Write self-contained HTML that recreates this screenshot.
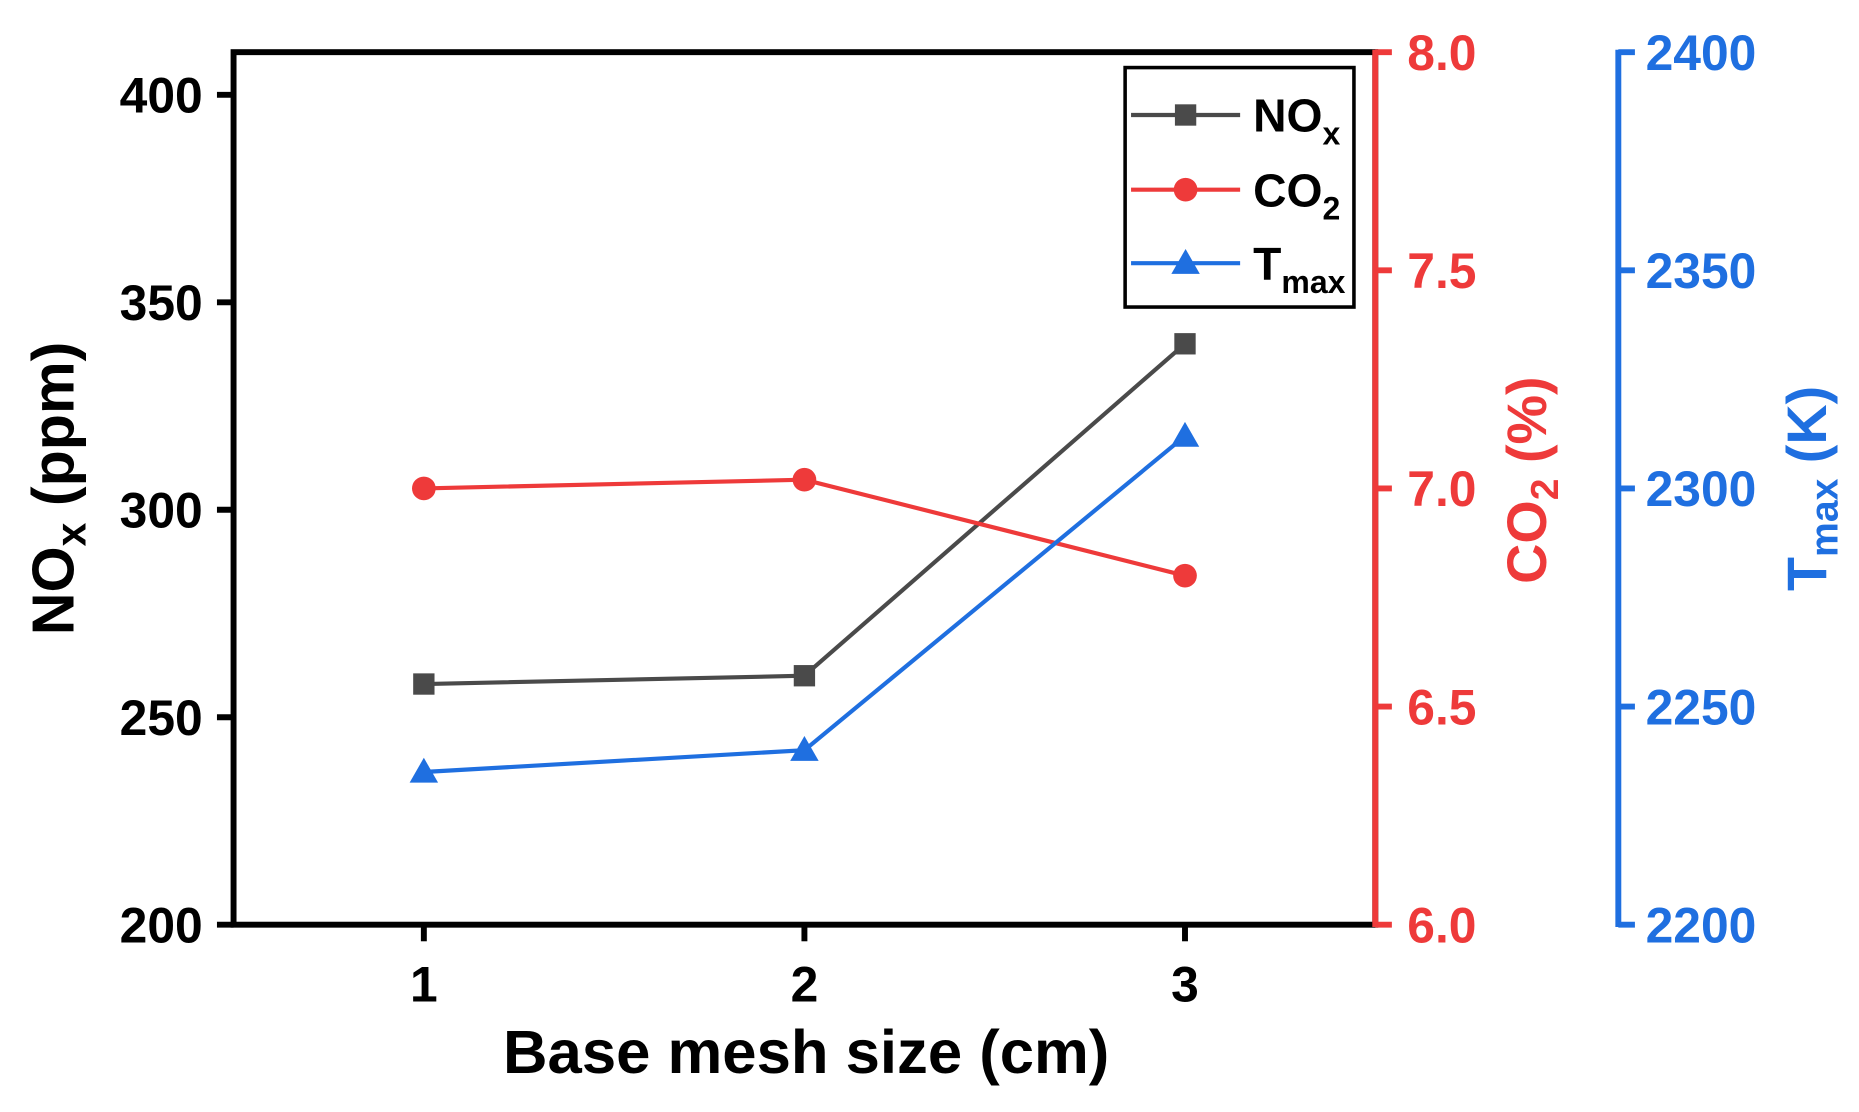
<!DOCTYPE html>
<html><head><meta charset="utf-8"><style>
html,body{margin:0;padding:0;background:#fff;}
svg{display:block;font-family:"Liberation Sans",Arial,sans-serif;font-weight:bold;}
</style></head><body>
<svg id="chart" width="1859" height="1112" viewBox="0 0 1568 938" preserveAspectRatio="none" xmlns="http://www.w3.org/2000/svg">
<g id="g"></g>
</svg>
<script>
const categories=[1,2,3];
const noxValues=[258,260,340];
const co2Values=[7.0,7.02,6.8];
const tmaxValues=[2235,2240,2312];
const leftTicks=[200,250,300,350,400];
const redTicks=["6.0","6.5","7.0","7.5","8.0"];
const blueTicks=[2200,2250,2300,2350,2400];

const L=197,R=1160,T=44,B=780;
const xS=v=>L+(v-0.5)/3*(R-L);
const yN=v=>B-(v-200)*3.5;
const yC=v=>B-(v-6)*368;
const yT=v=>B-(v-2200)*3.68;
const NS="http://www.w3.org/2000/svg";
const g=document.getElementById('g');
function mk(tag,attrs,parent){const e=document.createElementNS(NS,tag);for(const k in attrs)e.setAttribute(k,attrs[k]);(parent||g).appendChild(e);return e;}

let f=mk('rect',{x:L,y:T,width:R-L,height:B-T,fill:'none',stroke:'#000','stroke-width':5});


let ra=mk('line',{x1:R,y1:T-2,x2:R,y2:B+2,stroke:'#ee3a3a','stroke-width':5});


const BX=1365;
let ba=mk('line',{x1:BX,y1:T-2,x2:BX,y2:B+2,stroke:'#1f6fe0','stroke-width':5});



leftTicks.forEach(v=>{const y=yN(v);
 let t=mk('line',{x1:L-14,y1:y,x2:L,y2:y,stroke:'#000','stroke-width':5});
 
 
 let tx=mk('text',{x:L-26,y:y+15,'text-anchor':'end','font-size':42,fill:'#000'});tx.textContent=v;
 
 
});
redTicks.forEach(v=>{const y=yC(parseFloat(v));
 let t=mk('line',{x1:R,y1:y,x2:R+14,y2:y,stroke:'#ee3a3a','stroke-width':5});
 
 
 let tx=mk('text',{x:R+27,y:y+15,'font-size':42,fill:'#ee3a3a'});tx.textContent=v;
 
 
});
blueTicks.forEach(v=>{const y=yT(v);
 let t=mk('line',{x1:BX,y1:y,x2:BX+14,y2:y,stroke:'#1f6fe0','stroke-width':5});
 
 
 let tx=mk('text',{x:BX+23,y:y+15,'font-size':42,fill:'#1f6fe0'});tx.textContent=v;
 
 
});
categories.forEach(c=>{const x=xS(c);
 let t=mk('line',{x1:x,y1:B,x2:x,y2:B+14,stroke:'#000','stroke-width':5});
 
 
 let tx=mk('text',{x:x,y:B+65,'text-anchor':'middle','font-size':42,fill:'#000'});tx.textContent=c;
 
 
});

function series(vals,ys,color,marker,name){
 const pts=categories.map((c,i)=>[xS(c),ys(vals[i])]);
 let p=mk('polyline',{points:pts.map(p=>p.join(',')).join(' '),fill:'none',stroke:color,'stroke-width':3.5});
 
 
 pts.forEach(([x,y])=>drawMarker(x,y,color,marker,name));
}
function drawMarker(x,y,color,marker,name){
 let m;
 if(marker==='sq')m=mk('rect',{x:x-9,y:y-9,width:18,height:18,fill:color});
 else if(marker==='ci')m=mk('circle',{cx:x,cy:y,r:10,fill:color});
 else m=mk('polygon',{points:`${x},${y-12} ${x+12},${y+9} ${x-12},${y+9}`,fill:color});
 
 
}
series(noxValues,yN,'#4a4a4a','sq','nox');
series(co2Values,yC,'#ee3a3a','ci','co2');
series(tmaxValues,yT,'#1f6fe0','tr','tmax');
</script>
<svg style="position:absolute;left:0;top:0" width="1859" height="1112" viewBox="0 0 1568 938" preserveAspectRatio="none" xmlns="http://www.w3.org/2000/svg" font-family="Liberation Sans, Arial, sans-serif" font-weight="bold">
 <g>
  <rect x="949" y="57" width="193" height="202" fill="#fff" stroke="#000" stroke-width="3"/>
  <line x1="954" y1="97" x2="1046" y2="97" stroke="#4a4a4a" stroke-width="3.5"/>
  <rect x="991" y="88" width="18" height="18" fill="#4a4a4a"/>
  <text x="1057" y="111" font-size="39">NO<tspan font-size="27" dy="11">x</tspan></text>
  <line x1="954" y1="160" x2="1046" y2="160" stroke="#ee3a3a" stroke-width="3.5"/>
  <circle cx="1000" cy="160" r="10" fill="#ee3a3a"/>
  <text x="1057" y="174" font-size="39">CO<tspan font-size="27" dy="11">2</tspan></text>
  <line x1="954" y1="222" x2="1046" y2="222" stroke="#1f6fe0" stroke-width="3.5"/>
  <polygon points="1000,210 1012,231 988,231" fill="#1f6fe0"/>
  <text x="1057" y="236" font-size="39">T<tspan font-size="27" dy="11">max</tspan></text>
 </g>
 <text x="680" y="905" text-anchor="middle" font-size="52">Base mesh size (cm)</text>
 <text transform="translate(62,412) rotate(-90)" text-anchor="middle" font-size="50">NO<tspan font-size="36" dy="10">x</tspan><tspan dy="-10"> (ppm)</tspan></text>
 <text transform="translate(1304,405) rotate(-90)" text-anchor="middle" font-size="47" fill="#ee3a3a">CO<tspan font-size="33" dy="10">2</tspan><tspan dy="-10"> (%)</tspan></text>
 <text transform="translate(1540,412) rotate(-90)" text-anchor="middle" font-size="47" fill="#1f6fe0">T<tspan font-size="33" dy="10">max</tspan><tspan dy="-10"> (K)</tspan></text>
</svg>
</body></html>
